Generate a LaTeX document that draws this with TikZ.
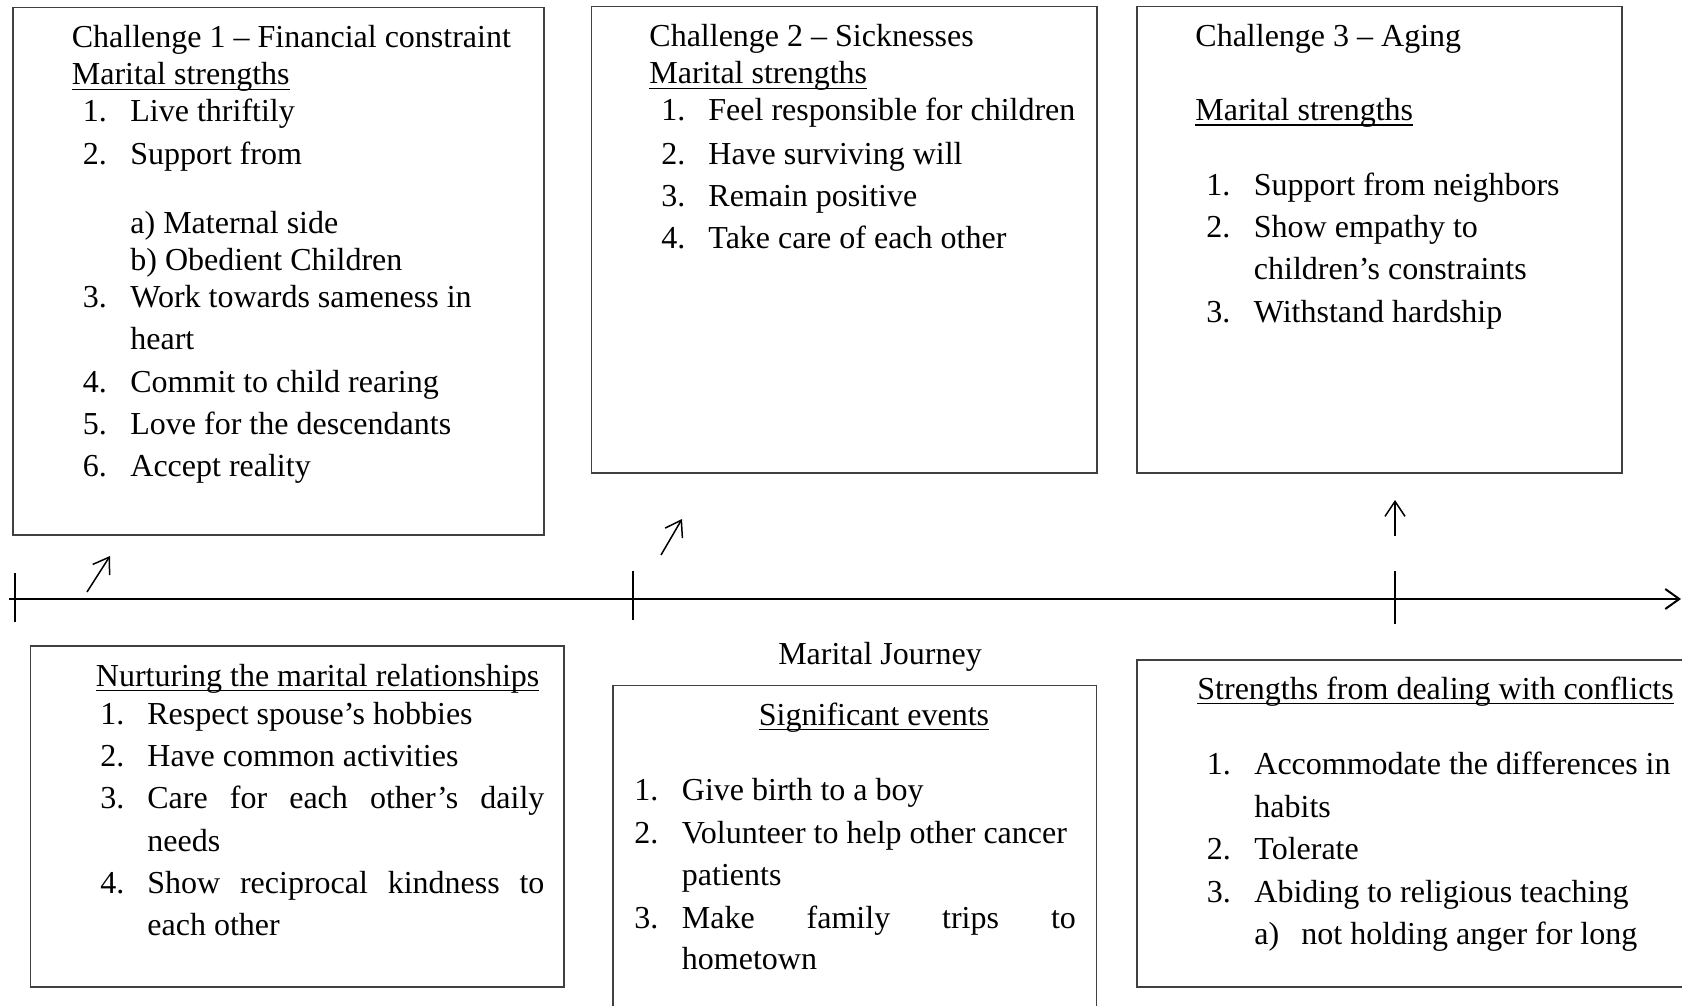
\documentclass[tikz,border=0pt]{standalone}
\usepackage{fontspec}
\setmainfont{Liberation Serif}
\usetikzlibrary{arrows.meta}
\newsavebox\ulbox
\newcommand\ulx[1]{\sbox\ulbox{#1}\rlap{\rule[-2.6pt]{\wd\ulbox}{0.7pt}}\usebox\ulbox}
\newcommand\justx[2]{\makebox[#1][s]{#2}}
\begin{document}
\begin{tikzpicture}[x=0.5pt,y=-0.5pt,
  txt/.style={anchor=base west, inner sep=0pt, font=\fontsize{16pt}{19pt}\selectfont},
  ctxt/.style={anchor=base, inner sep=0pt, font=\fontsize{16pt}{19pt}\selectfont},
  boxst/.style={draw=black!75, line width=0.75pt, inner sep=0pt, rectangle},
  tick/.style={line width=0.9pt},
  arr/.style={-{Straight Barb[length=7.5pt,width=10pt]}, line width=0.75pt}]
\useasboundingbox (0,0) rectangle (1682,1006);

% boxes
\node[boxst, minimum width=265.5pt, minimum height=263.75pt] (box1) at (278.5,271.25) {};
\node[boxst, minimum width=252.75pt, minimum height=233.25pt] (box2) at (844.25,239.75) {};
\node[boxst, minimum width=242.5pt, minimum height=233.25pt] (box3) at (1379.5,239.75) {};
\node[boxst, minimum width=266.75pt, minimum height=170.5pt] (box4) at (297.25,816.5) {};
\node[boxst, minimum width=241.75pt, minimum height=175pt] (box5) at (854.75,860.5) {};
\node[boxst, minimum width=291.5pt, minimum height=163.5pt] (box6) at (1428.5,823.5) {};

% timeline
\coordinate (tl0) at (9,599);
\coordinate (tl1) at (1681,599);
\draw[line width=1pt, -{Straight Barb[length=7pt,width=10pt]}] (tl0) -- (tl1);
\coordinate (tk1a) at (15,573);  \coordinate (tk1b) at (15,622);
\coordinate (tk2a) at (633,571); \coordinate (tk2b) at (633,620);
\coordinate (tk3a) at (1395,571); \coordinate (tk3b) at (1395,624);
\draw[tick] (tk1a) -- (tk1b);
\draw[tick] (tk2a) -- (tk2b);
\draw[tick] (tk3a) -- (tk3b);
\coordinate (a1s) at (87,592);  \coordinate (a1e) at (110,556);
\coordinate (a2s) at (661,555); \coordinate (a2e) at (682,519);
\coordinate (a3s) at (1395,536); \coordinate (a3e) at (1395,500);
\draw[arr] (a1s) -- (a1e);
\draw[arr] (a2s) -- (a2e);
\draw[arr] (a3s) -- (a3e);

% Box 1
\node[txt] (b1t) at (71.5,48) {Challenge 1 – Financial constraint};
\node[txt] (b1m) at (71.5,85) {\ulx{Marital strengths}};
\node[txt] (b1n1) at (82.5,122) {1.};  \node[txt] (b1i1) at (130,122) {Live thriftily};
\node[txt] (b1n2) at (82.5,164) {2.};  \node[txt] (b1i2) at (130,164) {Support from};
\node[txt] (b1i2a) at (130,234) {a) Maternal side};
\node[txt] (b1i2b) at (130,270) {b) Obedient Children};
\node[txt] (b1n3) at (82.5,307.5) {3.}; \node[txt] (b1i3) at (130,307.5) {Work towards sameness in};
\node[txt] (b1i3b) at (130,349) {heart};
\node[txt] (b1n4) at (82.5,392) {4.};  \node[txt] (b1i4) at (130,392) {Commit to child rearing};
\node[txt] (b1n5) at (82.5,434) {5.};  \node[txt] (b1i5) at (130,434) {Love for the descendants};
\node[txt] (b1n6) at (82.5,476) {6.};  \node[txt] (b1i6) at (130,476) {Accept reality};

% Box 2
\node[txt] (b2t) at (649,47) {Challenge 2 – Sicknesses};
\node[txt] (b2m) at (649,84) {\ulx{Marital strengths}};
\node[txt] (b2n1) at (661,121) {1.};   \node[txt] (b2i1) at (708,121) {Feel responsible for children};
\node[txt] (b2n2) at (661,164) {2.};   \node[txt] (b2i2) at (708,164) {Have surviving will};
\node[txt] (b2n3) at (661,206.5) {3.}; \node[txt] (b2i3) at (708,206.5) {Remain positive};
\node[txt] (b2n4) at (661,249) {4.};   \node[txt] (b2i4) at (708,249) {Take care of each other};

% Box 3
\node[txt] (b3t) at (1195,47) {Challenge 3 – Aging};
\node[txt] (b3m) at (1195,120.5) {\ulx{Marital strengths}};
\node[txt] (b3n1) at (1206,195) {1.};   \node[txt] (b3i1) at (1253.5,195) {Support from neighbors};
\node[txt] (b3n2) at (1206,237.5) {2.}; \node[txt] (b3i2) at (1253.5,237.5) {Show empathy to};
\node[txt] (b3i2b) at (1253.5,279.5) {children’s constraints};
\node[txt] (b3n3) at (1206,322) {3.};   \node[txt] (b3i3) at (1253.5,322) {Withstand hardship};

% Box 4
\node[txt] (b4t) at (95.5,686) {\ulx{Nurturing the marital relationships}};
\node[txt] (b4n1) at (100,724) {1.};   \node[txt] (b4i1) at (147,724) {Respect spouse’s hobbies};
\node[txt] (b4n2) at (100,766.5) {2.}; \node[txt] (b4i2) at (147,766.5) {Have common activities};
\node[txt] (b4n3) at (100,808) {3.};   \node[txt] (b4i3) at (147,808) {\justx{198.5pt}{Care for each other’s daily}};
\node[txt] (b4i3b) at (147,851) {needs};
\node[txt] (b4n4) at (100,893.5) {4.}; \node[txt] (b4i4) at (147,893.5) {\justx{198.5pt}{Show reciprocal kindness to}};
\node[txt] (b4i4b) at (147,935) {each other};

% Journey label
\node[ctxt] (journey) at (880,664) {Marital Journey};

% Box 5
\node[ctxt] (b5t) at (874,725) {\ulx{Significant events}};
\node[txt] (b5n1) at (634,800.5) {1.}; \node[txt] (b5i1) at (681.5,800.5) {Give birth to a boy};
\node[txt] (b5n2) at (634,843.5) {2.}; \node[txt] (b5i2) at (681.5,843.5) {Volunteer to help other cancer};
\node[txt] (b5i2b) at (681.5,885) {patients};
\node[txt] (b5n3) at (634,928) {3.};   \node[txt] (b5i3) at (681.5,928) {\justx{197pt}{Make family trips to}};
\node[txt] (b5i3b) at (681.5,969) {hometown};

% Box 6
\node[txt] (b6t) at (1197,699) {\ulx{Strengths from dealing with conflicts}};
\node[txt] (b6n1) at (1206.5,774) {1.}; \node[txt] (b6i1) at (1254,774) {Accommodate the differences in};
\node[txt] (b6i1b) at (1254,817.5) {habits};
\node[txt] (b6n2) at (1206.5,859.5) {2.}; \node[txt] (b6i2) at (1254,859.5) {Tolerate};
\node[txt] (b6n3) at (1206.5,902.5) {3.}; \node[txt] (b6i3) at (1254,902.5) {Abiding to religious teaching};
\node[txt] (b6a) at (1254,944.5) {a)};  \node[txt] (b6ai) at (1301,944.5) {not holding anger for long};
\end{tikzpicture}
\end{document}
